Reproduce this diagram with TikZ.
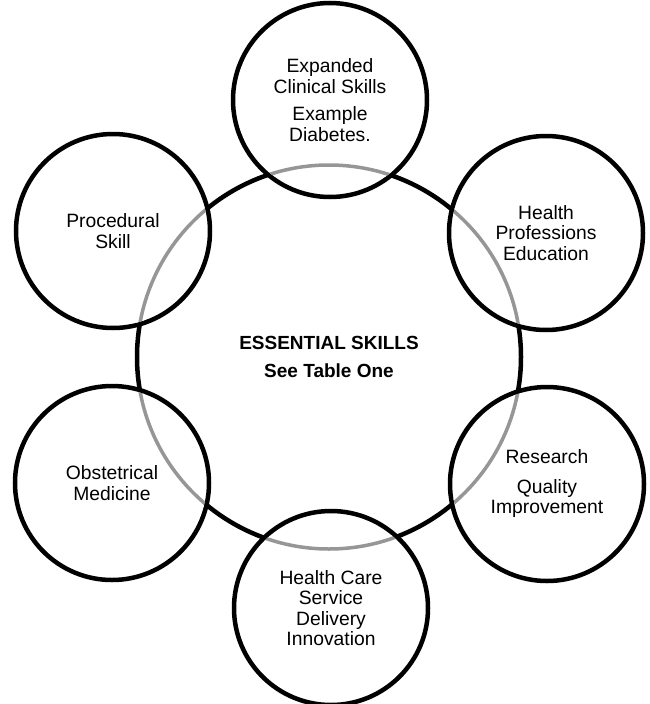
\documentclass[tikz,border=0pt]{standalone}
\usepackage{fontspec}
\setmainfont{Liberation Sans}
\definecolor{overlapgray}{RGB}{150,150,150}
\begin{document}
\begin{tikzpicture}[x=1pt,y=-1pt,
  ring/.style={circle, draw=black, line width=4.5pt, minimum size=194pt,
    inner sep=0pt, align=center, font=\fontsize{19.3}{20.5}\selectfont},
  hub/.style={circle, draw=black, line width=4.5pt, minimum size=384pt,
    inner sep=0pt, align=center, font=\bfseries\fontsize{19}{28}\selectfont},
  eraser/.style={draw=white, line width=6.5pt},
  overlap/.style={draw=overlapgray, line width=3.5pt}]
\useasboundingbox (0,0) rectangle (649,704);

% central circle
\node[hub] (hub) at (329,357) {ESSENTIAL SKILLS\\See Table One};

% surrounding circles
\node[ring] (clin) at (330,100) {Expanded\\Clinical Skills\\[7pt]Example\\Diabetes.};
\node[ring] (edu)  at (546,233) {Health\\Professions\\Education};
\node[ring] (res)  at (547,484) {Research\\[9pt]Quality\\Improvement};
\node[ring] (care) at (331,608) {Health Care\\Service\\Delivery\\Innovation};
\node[ring] (obs)  at (112,483) {Obstetrical\\Medicine};
\node[ring] (proc) at (113,231) {Procedural\\Skill};

% the central ring turns grey where it runs inside a surrounding circle
\foreach \n in {clin,edu,res,care,obs,proc}{
  \begin{scope}
    \clip (\n.center) circle[radius=94.6pt];
    \draw[eraser] (hub.center) circle[radius=192pt];
    \draw[overlap] (hub.center) circle[radius=192pt];
  \end{scope}
}
\end{tikzpicture}
\end{document}
